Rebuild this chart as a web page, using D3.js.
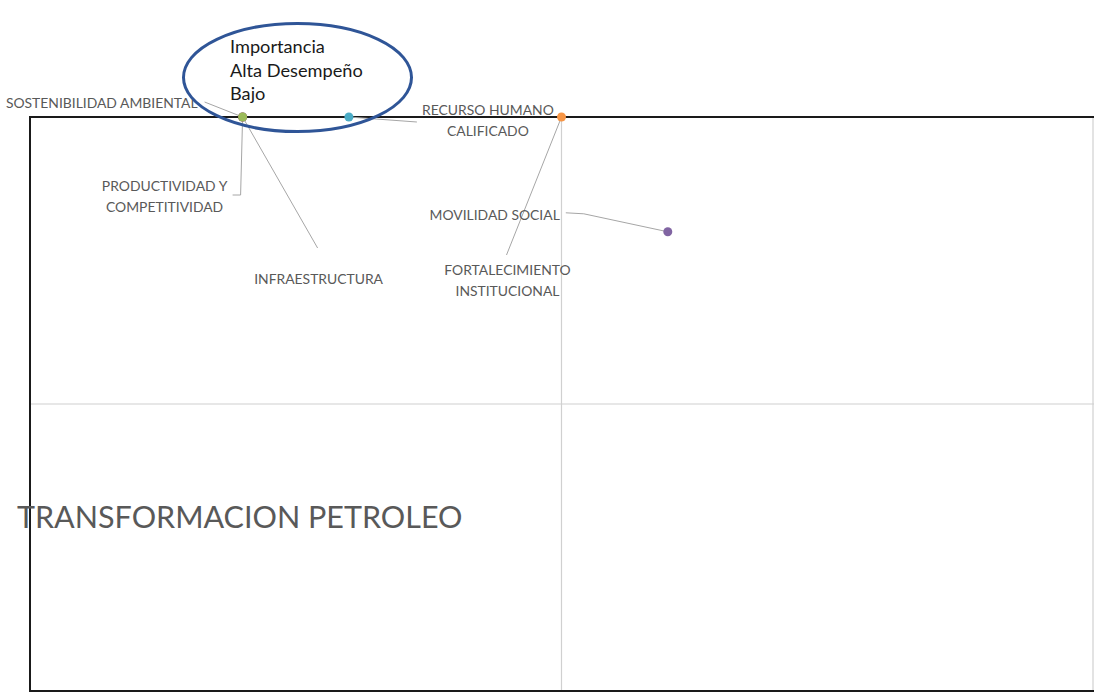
<!DOCTYPE html>
<html>
<head>
<meta charset="utf-8">
<script src="https://cdn.jsdelivr.net/npm/d3@7"></script>
<style>
  body { margin: 0; background: #fff; }
  text { font-family: Lato, "Noto Sans", sans-serif; }
</style>
</head>
<body>
<script>
// data (x = desempeño, y = importancia)
const categories = ["SOSTENIBILIDAD AMBIENTAL", "PRODUCTIVIDAD Y COMPETITIVIDAD", "INFRAESTRUCTURA",
                    "RECURSO HUMANO CALIFICADO", "FORTALECIMIENTO INSTITUCIONAL", "MOVILIDAD SOCIAL"];
const desempeno = [1, 1, 1, 1.5, 2.5, 3];
const importancia = [5, 5, 5, 5, 5, 4];
const colors = ["#4F81BD", "#C0504D", "#9BBB59", "#4BACC6", "#F79646", "#8064A2"];
const axisMin = 0, axisMax = 5, axisMid = 2.5;
const title = "TRANSFORMACION PETROLEO";
const noteLines = ["Importancia", "Alta Desempeño", "Bajo"];

// label placement, pixels relative to the point (like moved Excel data labels)
const labelLayout = [
  { lines: ["SOSTENIBILIDAD AMBIENTAL"], dx: -45, dy: -9, anchor: "end", leader: [[-38, -15], [0, 0]] },
  { lines: ["PRODUCTIVIDAD Y", "COMPETITIVIDAD"], dx: -78, dy: 74, anchor: "middle", leader: [[-10, 78], [-2, 78], [0, 0]] },
  { lines: ["INFRAESTRUCTURA"], dx: 76, dy: 167, anchor: "middle", leader: [[75, 131], [0, 0]] },
  { lines: ["RECURSO HUMANO", "CALIFICADO"], dx: 139, dy: -2, anchor: "middle", leader: [[68, 5], [0, 0]] },
  { lines: ["FORTALECIMIENTO", "INSTITUCIONAL"], dx: -54, dy: 158, anchor: "middle", leader: [[-55, 138], [0, 0]] },
  { lines: ["MOVILIDAD SOCIAL"], dx: -108, dy: -12, anchor: "end", leader: [[-102, -19], [-84, -18], [0, 0]] }
];

const data = categories.map((c, i) => ({ name: c, x: desempeno[i], y: importancia[i], color: colors[i], lab: labelLayout[i] }));

const margin = { top: 117, right: 0, bottom: 7, left: 30 },
      width = 1094 - margin.left - margin.right,
      height = 698 - margin.top - margin.bottom;

const svg = d3.select("body").append("svg")
    .attr("width", 1094)
    .attr("height", 698);

const g = svg.append("g")
    .attr("transform", "translate(" + margin.left + "," + margin.top + ")");

const x = d3.scaleLinear().domain([axisMin, axisMax]).range([0, width - 1]);
const y = d3.scaleLinear().domain([axisMin, axisMax]).range([height, 0]);

// quadrant lines
g.append("line")
    .attr("x1", x(axisMid)).attr("x2", x(axisMid))
    .attr("y1", 0).attr("y2", height)
    .attr("stroke", "#d0d0d0").attr("stroke-width", 1.2);
g.append("line")
    .attr("x1", 0).attr("x2", width)
    .attr("y1", y(axisMid)).attr("y2", y(axisMid))
    .attr("stroke", "#d0d0d0").attr("stroke-width", 1.2);
g.append("line")
    .attr("x1", x(axisMax)).attr("x2", x(axisMax))
    .attr("y1", 0).attr("y2", height)
    .attr("stroke", "#d0d0d0").attr("stroke-width", 1.2);

// black frame (left, top, bottom)
g.append("path")
    .attr("d", "M" + width + "," + y(axisMax) + "H" + x(axisMin) + "V" + y(axisMin) + "H" + width)
    .attr("fill", "none")
    .attr("stroke", "#1a1a1a")
    .attr("stroke-width", 2);

// big title
g.append("text")
    .attr("x", -13)
    .attr("y", 411)
    .attr("font-size", 30.5)
    .attr("fill", "#595959")
    .text(title);

// leader lines
const line = d3.line();
g.selectAll(".leader")
    .data(data)
    .enter().append("path")
    .attr("class", "leader")
    .attr("d", d => line(d.lab.leader.map(p => [x(d.x) + p[0], y(d.y) + p[1]])))
    .attr("fill", "none")
    .attr("stroke", "#a6a6a6")
    .attr("stroke-width", 1);

// labels
const labels = g.selectAll(".lab")
    .data(data)
    .enter().append("text")
    .attr("class", "lab")
    .attr("font-size", 13.9)
    .attr("fill", "#595959")
    .attr("text-anchor", d => d.lab.anchor);
labels.selectAll("tspan")
    .data(d => d.lab.lines.map((t, k) => ({ t: t, k: k, d: d })))
    .enter().append("tspan")
    .attr("x", e => x(e.d.x) + e.d.lab.dx)
    .attr("y", e => y(e.d.y) + e.d.lab.dy + e.k * 21)
    .text(e => e.t);

// points
g.selectAll(".dot")
    .data(data)
    .enter().append("circle")
    .attr("class", "dot")
    .attr("r", 4.5)
    .attr("cx", d => x(d.x))
    .attr("cy", d => y(d.y))
    .attr("fill", d => d.color);

// callout ellipse with note
svg.append("ellipse")
    .attr("cx", 297.5).attr("cy", 77.5)
    .attr("rx", 114).attr("ry", 54)
    .attr("fill", "none")
    .attr("stroke", "#2f5597")
    .attr("stroke-width", 3);
svg.append("text")
    .attr("font-size", 18.2)
    .attr("fill", "#1a1a1a")
    .selectAll("tspan")
    .data(noteLines)
    .enter().append("tspan")
    .attr("x", 230)
    .attr("y", (d, i) => 53 + i * 23.5)
    .text(d => d);
</script>
</body>
</html>
